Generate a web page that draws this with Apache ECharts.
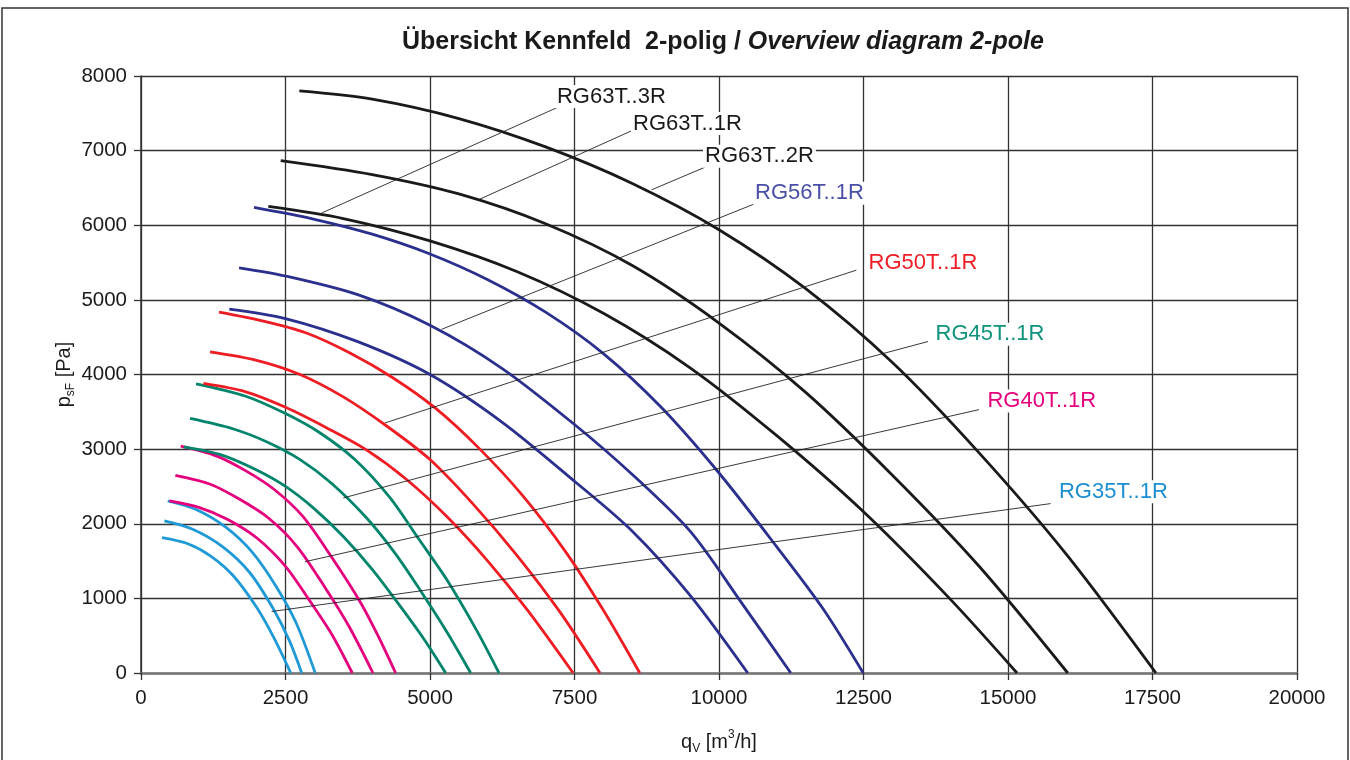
<!DOCTYPE html>
<html>
<head>
<meta charset="utf-8">
<title>Übersicht Kennfeld 2-polig</title>
<script src="https://cdn.jsdelivr.net/npm/echarts@6/dist/echarts.min.js"></script>
<style>
  html, body { margin: 0; padding: 0; background: #fff; }
  #chart { width: 1350px; height: 760px; }
</style>
</head>
<body>
<div id="chart"></div>
<script>
// fan curves per size, three per size: [qV m3/h, psF Pa]
const rg35 = [
  [[364, 1815], [800, 1735], [1200, 1570], [1600, 1300], [2000, 880], [2300, 470], [2590, 0]],
  [[404, 2038], [895, 1926], [1415, 1690], [1876, 1350], [2281, 870], [2569, 430], [2780, 0]],
  [[462, 2305], [953, 2190], [1472, 1950], [1934, 1610], [2338, 1160], [2685, 670], [3014, 0]]
]
const rg40 = [
  [[491, 2305], [1000, 2220], [1500, 2058], [2000, 1812], [2500, 1430], [2900, 990], [3300, 519], [3655, 0]],
  [[595, 2649], [1200, 2530], [1700, 2331], [2200, 2080], [2700, 1695], [3200, 1126], [3600, 623], [4013, 0]],
  [[687, 3040], [1300, 2910], [1800, 2715], [2300, 2462], [2800, 2098], [3300, 1550], [3800, 942], [4100, 500], [4405, 0]]
]
const rg45 = [
  [[740, 3030], [1400, 2920], [2000, 2720], [2500, 2500], [3000, 2200], [3500, 1830], [4000, 1390], [4500, 880], [4900, 450], [5272, 0]],
  [[849, 3411], [1600, 3270], [2200, 3090], [2753, 2860], [3300, 2540], [3900, 2080], [4400, 1600], [4856, 1080], [5300, 540], [5704, 0]],
  [[953, 3875], [1800, 3712], [2500, 3476], [3100, 3216], [3700, 2860], [4300, 2356], [4800, 1802], [5300, 1240], [5800, 581], [6194, 0]]
]
const rg50 = [
  [[1080, 3880], [1800, 3770], [2500, 3560], [3200, 3290], [3900, 2990], [4600, 2590], [5300, 2090], [6000, 1500], [6700, 830], [7477, 0]],
  [[1194, 4303], [2000, 4190], [2750, 4000], [3500, 3700], [4250, 3310], [5000, 2860], [5750, 2260], [6500, 1580], [7250, 815], [7941, 0]],
  [[1349, 4837], [2100, 4720], [2850, 4560], [3600, 4295], [4350, 3960], [5100, 3545], [5850, 3010], [6600, 2380], [7350, 1620], [8000, 840], [8629, 0]]
]
const rg56 = [
  [[1528, 4877], [2500, 4750], [3750, 4440], [5000, 4000], [6250, 3360], [7500, 2570], [8500, 1900], [9500, 1040], [10497, 0]],
  [[1696, 5430], [2500, 5320], [3750, 5070], [5000, 4660], [6250, 4080], [7500, 3330], [8500, 2660], [9500, 1900], [10400, 930], [11242, 0]],
  [[1955, 6239], [3000, 6080], [4000, 5880], [5000, 5615], [6000, 5270], [7000, 4835], [8000, 4280], [9000, 3560], [10000, 2680], [11000, 1690], [11800, 860], [12495, 0]]
]
const rg63 = [
  [[2203, 6252], [3500, 6090], [5000, 5790], [6500, 5380], [8000, 4820], [9500, 4090], [11000, 3180], [12500, 2160], [14000, 990], [15156, 0]],
  [[2417, 6867], [4000, 6680], [5500, 6420], [7000, 6020], [8500, 5460], [10000, 4690], [11500, 3760], [13000, 2650], [14500, 1430], [16034, 0]],
  [[2739, 7800], [4000, 7690], [5500, 7430], [7000, 7050], [8500, 6560], [10000, 5940], [11500, 5150], [13000, 4160], [14500, 2950], [16000, 1600], [17560, 0]]
]

const familyCurves = [rg35, rg40, rg45, rg50, rg56, rg63]
const familyNames = ['RG35T', 'RG40T', 'RG45T', 'RG50T', 'RG56T', 'RG63T']
const familyColors = ['#1f9ad6', '#e5007d', '#00856c', '#ee1d24', '#2b2f8d', '#1a1a1a']

// curve labels with leader lines
const labelNames = ['RG63T..3R', 'RG63T..1R', 'RG63T..2R', 'RG56T..1R', 'RG50T..1R', 'RG45T..1R', 'RG40T..1R', 'RG35T..1R']
const labelColors = ['#1a1a1a', '#1a1a1a', '#1a1a1a', '#4a4fa8', '#ee1d24', '#0f937c', '#e5007d', '#1b8fd2']
const labelPos = [[7197, 7724], [8512, 7363], [9758, 6923], [10623, 6429], [12588, 5497], [13747, 4539], [14644, 3645], [15882, 2430]]
const leaderFrom = [[7192, 7574], [8517, 7276], [9758, 6778], [10652, 6298], [12376, 5398], [13616, 4442], [14498, 3529], [15737, 2270]]
const leaderTo = [[3126, 6164], [5865, 6351], [8835, 6475], [5202, 4606], [4221, 3351], [3500, 2346], [2837, 1491], [2261, 824]]

const FONT = '"Liberation Sans", Arial, sans-serif'

const chart = echarts.init(document.getElementById('chart'))

const series = []
familyCurves.forEach((curves, f) => {
  curves.forEach((pts, i) => {
    series.push({
      name: familyNames[f] + '-' + (i + 1),
      type: 'line',
      data: pts,
      smooth: 0.3,
      showSymbol: false,
      symbol: 'none',
      silent: true,
      z: 3,
      lineStyle: { color: familyColors[f], width: 2.8 }
    })
  })
})

leaderFrom.forEach((p, i) => {
  series.push({
    name: 'leader-' + i,
    type: 'line',
    data: [p, leaderTo[i]],
    symbol: 'none',
    silent: true,
    z: 4,
    lineStyle: { color: '#222', width: 0.9 }
  })
})

series.push({
  name: 'labels',
  type: 'scatter',
  symbolSize: 0,
  silent: true,
  z: 5,
  itemStyle: { opacity: 1 },
  data: labelPos.map((p, i) => ({
    value: p,
    label: { formatter: labelNames[i], color: labelColors[i] }
  })),
  label: {
    show: true,
    position: 'right',
    distance: 0,
    offset: [-2, 0],
    fontSize: 22,
    fontFamily: FONT,
    opacity: 1,
    backgroundColor: '#fff',
    padding: [1, 2, 0, 2]
  }
})

chart.setOption({
  animation: false,
  backgroundColor: '#fff',
  title: {
    text: '{b|Übersicht Kennfeld  2-polig / }{bi|Overview diagram 2-pole}',
    left: 397,
    top: 25,
    textStyle: {
      rich: {
        b: { fontSize: 25, fontWeight: 'bold', fontFamily: FONT, color: '#1a1a1a' },
        bi: { fontSize: 25, fontWeight: 'bold', fontStyle: 'italic', fontFamily: FONT, color: '#1a1a1a' }
      }
    }
  },
  graphic: [{
    type: 'rect',
    silent: true,
    shape: { x: 2, y: 8, width: 1346, height: 780 },
    style: { fill: 'none', stroke: '#333', lineWidth: 1.5 }
  }],
  grid: { left: 141, right: 53, top: 76, bottom: 85 },
  xAxis: {
    type: 'value',
    min: 0,
    max: 20000,
    interval: 2500,
    name: 'q{sub|V} [m{sup|3}/h]',
    nameLocation: 'middle',
    nameGap: 56,
    nameTextStyle: {
      fontSize: 20,
      fontFamily: FONT,
      color: '#1a1a1a',
      lineHeight: 26,
      rich: {
        sub: { fontSize: 12, fontFamily: FONT, color: '#1a1a1a', verticalAlign: 'bottom', lineHeight: 26 },
        sup: { fontSize: 12, fontFamily: FONT, color: '#1a1a1a', verticalAlign: 'top', lineHeight: 26 }
      }
    },
    axisLine: { show: true, onZero: false, lineStyle: { color: '#777', width: 2.5 } },
    axisTick: { show: true, inside: false, length: 7, lineStyle: { color: '#333', width: 1.3 } },
    axisLabel: { fontSize: 20.5, fontFamily: FONT, color: '#1a1a1a', margin: 15, formatter: v => String(v) },
    splitLine: { show: true, lineStyle: { color: '#333', width: 1.3 } }
  },
  yAxis: {
    type: 'value',
    min: 0,
    max: 8000,
    interval: 1000,
    name: 'p{sub|sF} [Pa]',
    nameLocation: 'middle',
    nameGap: 64,
    nameMoveOverlap: false,
    nameTextStyle: {
      fontSize: 20,
      fontFamily: FONT,
      color: '#1a1a1a',
      lineHeight: 26,
      rich: {
        sub: { fontSize: 12, fontFamily: FONT, color: '#1a1a1a', verticalAlign: 'bottom', lineHeight: 26 }
      }
    },
    axisLine: { show: true, lineStyle: { color: '#333', width: 1.5 } },
    axisTick: { show: true, inside: false, length: 7, lineStyle: { color: '#333', width: 1.3 } },
    axisLabel: { fontSize: 20.5, fontFamily: FONT, color: '#1a1a1a', margin: 14, formatter: v => String(v) },
    splitLine: { show: true, lineStyle: { color: '#333', width: 1.3 } }
  },
  series
})
</script>
</body>
</html>
